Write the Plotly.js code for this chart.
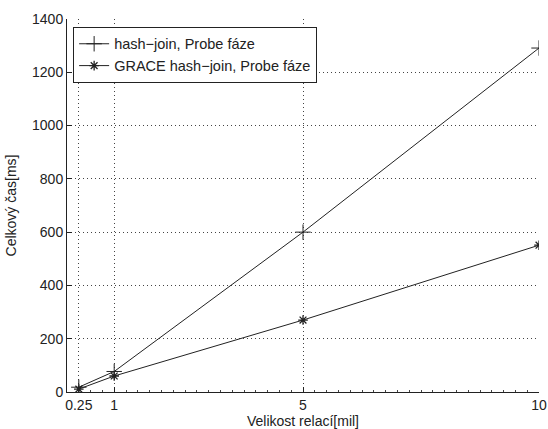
<!DOCTYPE html>
<html><head><meta charset="utf-8">
<script src="https://cdn.plot.ly/plotly-3.0.1.min.js"></script>
<style>html,body{margin:0;padding:0;background:#fff}#chart{width:548px;height:429px}</style>
</head><body><div id="chart"></div>
<script>
const sizes = [0.25, 1, 5, 10];
const hashJoin = [18, 77, 600, 1291];
const graceHashJoin = [11, 60, 270, 551];
const seriesNames = ["hash\u2212join, Probe fáze", "GRACE hash\u2212join, Probe fáze"];
const xTickVals = [0.25, 1, 5, 10];
const xTickText = ["0.25", "1", "5", "10"];

const fam = "Liberation Sans, Arial, Helvetica, sans-serif";
const font = {family: fam, size: 14, color: "#222"};
const traces = [
  {x: sizes, y: hashJoin, name: seriesNames[0], mode: "lines+markers",
   line: {color: "#222", width: 1},
   marker: {symbol: "cross-thin-open", size: 11, color: "#222", line: {color: "#222", width: 1}}},
  {x: sizes, y: graceHashJoin, name: seriesNames[1], mode: "lines+markers",
   line: {color: "#222", width: 1},
   marker: {symbol: "asterisk-open", size: 8, color: "#222", line: {color: "#222", width: 1.3}}}
];
const layout = {
  width: 548, height: 429,
  margin: {l: 67, r: 9, t: 19, b: 37},
  paper_bgcolor: "#fff", plot_bgcolor: "#fff",
  font: font,
  showlegend: true,
  legend: {x: 0.013, y: 0.979, xanchor: "left", yanchor: "top",
           bgcolor: "#fff", bordercolor: "#222", borderwidth: 1,
           font: {family: fam, size: 14.5, color: "#222"},
           tracegroupgap: 0},
  xaxis: {range: [0, 10], tickmode: "array", tickvals: xTickVals, ticktext: xTickText,
          ticks: "inside", ticklen: 5, tickcolor: "#222",
          showline: true, linecolor: "#222", linewidth: 1,
          showgrid: true, gridcolor: "#444", griddash: "1px,3px", gridwidth: 1,
          zeroline: false,
          minor: {tickmode: "linear", tick0: 0, dtick: 0.25, ticks: "inside", ticklen: 2, tickcolor: "#444", showgrid: false},
          title: {text: "Velikost relací[mil]", font: font, standoff: 3},
          tickfont: font},
  yaxis: {range: [0, 1400], dtick: 200, tick0: 0,
          ticks: "inside", ticklen: 5, tickcolor: "#222",
          showline: true, linecolor: "#222", linewidth: 1,
          showgrid: true, gridcolor: "#444", griddash: "1px,3px", gridwidth: 1,
          zeroline: false,
          title: {text: "Celkový čas[ms]", font: font, standoff: 12},
          tickfont: font}
};
Plotly.newPlot("chart", traces, layout, {displayModeBar: false, staticPlot: true});
</script></body></html>
